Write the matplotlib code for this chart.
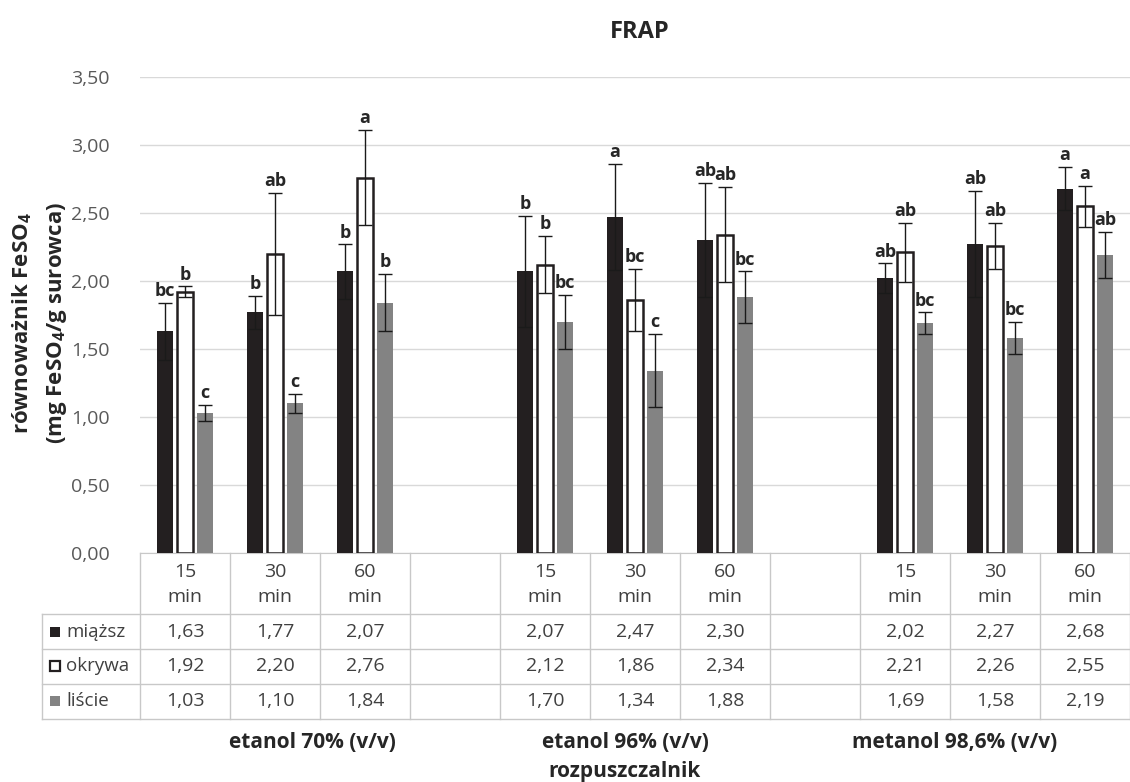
import numpy as np
import matplotlib
matplotlib.use("Agg")
import matplotlib.pyplot as plt
from matplotlib.patches import Rectangle

plt.rcParams['font.family'] = ['Open Sans', 'DejaVu Sans']
plt.rcParams['mathtext.default'] = 'regular'

# ---- Data ----
time_labels = ["15", "30", "60", "", "15", "30", "60", "", "15", "30", "60"]
slots = [0, 1, 2, 4, 5, 6, 8, 9, 10]          # columns holding data (3 and 7 are empty)
solvents = ["etanol 70% (v/v)", "etanol 96% (v/v)", "metanol 98,6% (v/v)"]
series_names = ["miąższ", "okrywa", "liście"]

miazsz = [1.63, 1.77, 2.07, 2.07, 2.47, 2.30, 2.02, 2.27, 2.68]
okrywa = [1.92, 2.20, 2.76, 2.12, 1.86, 2.34, 2.21, 2.26, 2.55]
liscie = [1.03, 1.10, 1.84, 1.70, 1.34, 1.88, 1.69, 1.58, 2.19]

err_miazsz = [0.21, 0.12, 0.20, 0.41, 0.39, 0.42, 0.11, 0.39, 0.16]
err_okrywa = [0.04, 0.45, 0.35, 0.21, 0.23, 0.35, 0.22, 0.17, 0.15]
err_liscie = [0.06, 0.07, 0.21, 0.20, 0.27, 0.19, 0.08, 0.12, 0.17]

let_miazsz = ["bc", "b", "b", "b", "a", "ab", "ab", "ab", "a"]
let_okrywa = ["b", "ab", "a", "b", "bc", "ab", "ab", "ab", "a"]
let_liscie = ["c", "c", "b", "bc", "c", "bc", "bc", "bc", "ab"]

# ---- Style ----
W, H = 1130, 782
BLACK = "#231f20"
GRAY = "#838383"
TXT = "#404040"
GRID = "#d9d9d9"
LINE = "#c8c8c8"
FS = 14

fig = plt.figure(figsize=(W / 100, H / 100), dpi=100)
ax = fig.add_axes([140 / W, (H - 553) / H, 990 / W, (553 - 77) / H])

x = np.array(slots, dtype=float)
off = 0.222
bw = 0.18
series = [
    (miazsz, err_miazsz, let_miazsz, dict(color=BLACK, edgecolor=BLACK, linewidth=0)),
    (okrywa, err_okrywa, let_okrywa, dict(color="white", edgecolor=BLACK, linewidth=1.8)),
    (liscie, err_liscie, let_liscie, dict(color=GRAY, edgecolor=GRAY, linewidth=0)),
]
for k, (vals, errs, lets, style) in enumerate(series):
    xs = x + (k - 1) * off
    ax.bar(xs, vals, width=bw, zorder=3, **style)
    ax.errorbar(xs, vals, yerr=errs, fmt="none", ecolor="#1a1a1a",
                elinewidth=1.0, capsize=5, capthick=1.0, zorder=4)
    for xi, v, e, t in zip(xs, vals, errs, lets):
        ax.annotate(t, (xi, v + e), xytext=(0, 2), textcoords="offset points",
                    ha="center", va="bottom", fontsize=13, fontweight="bold",
                    color="#262626")

ax.set_xlim(-0.5, 10.5)
ax.set_ylim(0, 3.5)
ax.set_yticks(np.arange(0, 3.51, 0.5))
ax.set_yticklabels([f"{v:.2f}".replace(".", ",") for v in np.arange(0, 3.51, 0.5)],
                   fontsize=FS, color="#595959")
ax.tick_params(axis="y", length=0, pad=22)
ax.set_xticks([])
ax.yaxis.grid(True, color=GRID, linewidth=1)
ax.set_axisbelow(True)
for s in ["top", "right", "left"]:
    ax.spines[s].set_visible(False)
ax.spines["bottom"].set_color(LINE)

fig.text(22 / W, 1 - 323 / H, "równoważnik FeSO$_4$", rotation=90, ha="center",
         va="center", fontsize=16, fontweight="bold", color="#262626")
fig.text(57 / W, 1 - 323 / H, "(mg FeSO$_4$/g surowca)", rotation=90, ha="center",
         va="center", fontsize=16, fontweight="bold", color="#262626")

fig.text(640 / W, 1 - 32 / H, "FRAP", ha="center", va="center", fontsize=17,
         fontweight="bold", color="#262626")

# ---- Data table under the chart ----
x_left = -0.5 - 98 / 90
tax = fig.add_axes([42 / W, (H - 719) / H, (W - 42) / W, (719 - 553) / H])
tax.set_xlim(x_left, 10.5)
tax.set_ylim(166, 0)
tax.axis("off")

row_edges = [61, 96, 131, 166]
for c in range(12):
    tax.plot([c - 0.5, c - 0.5], [0, 166], color=LINE, lw=1, clip_on=False)
tax.plot([x_left, x_left], [61, 166], color=LINE, lw=1, clip_on=False)
for y in row_edges:
    tax.plot([x_left, 10.5], [y, y], color=LINE, lw=1, clip_on=False)

for c, t in enumerate(time_labels):
    if t:
        tax.text(c, 19, t, ha="center", va="center", fontsize=FS, color=TXT)
        tax.text(c, 44, "min", ha="center", va="center", fontsize=FS, color=TXT)

row_y = [79, 113, 148]
for r, vals in enumerate([miazsz, okrywa, liscie]):
    for c, v in zip(slots, vals):
        tax.text(c, row_y[r], f"{v:.2f}".replace(".", ","), ha="center",
                 va="center", fontsize=FS, color=TXT)

key_x = -0.5 - 90 / 90
sq = 10
key_styles = [dict(facecolor=BLACK, edgecolor=BLACK, lw=0),
              dict(facecolor="white", edgecolor=BLACK, lw=1.6),
              dict(facecolor=GRAY, edgecolor=GRAY, lw=0)]
for r, name in enumerate(series_names):
    tax.add_patch(Rectangle((key_x, row_y[r] - sq / 2), sq / 90, sq,
                            clip_on=False, **key_styles[r]))
    tax.text(-0.5 - 74 / 90, row_y[r], name, ha="left", va="center",
             fontsize=FS - 0.5, color=TXT)

# ---- Category group labels ----
group_px = [312, 625, 955]
for gx, name in zip(group_px, solvents):
    fig.text(gx / W, 1 - 742 / H, name, ha="center", va="center", fontsize=15,
             fontweight="bold", color="#262626")
fig.text(625 / W, 1 - 771 / H, "rozpuszczalnik", ha="center", va="center",
         fontsize=15, fontweight="bold", color="#262626")

fig.savefig("out.png", dpi=100)
